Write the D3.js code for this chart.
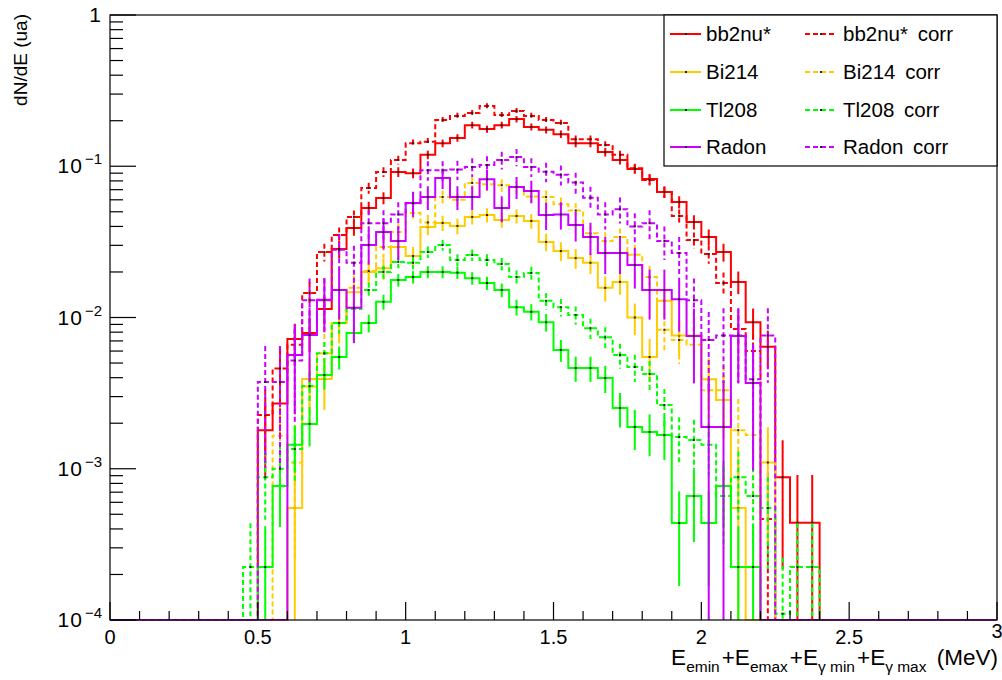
<!DOCTYPE html>
<html>
<head>
<meta charset="utf-8">
<script src="https://cdn.jsdelivr.net/npm/d3@7"></script>
<style>
  html, body { margin: 0; padding: 0; background: #fff; }
  svg { display: block; font-family: "Liberation Sans", Arial, Helvetica, sans-serif; }
</style>
</head>
<body>
<svg id="chart" width="1002" height="680"></svg>
<script>
// ---------------- data ----------------
// bin width 0.05 MeV; arrays start at the bin [0.45, 0.50) and end at [2.35, 2.40)
const binWidth = 0.05;
const firstBin = 0.45;

const bb2nu = [0, 1.8e-3, 2.7e-3, 7.2e-3, 7.9e-3, 1.14e-2, 2.84e-2, 3.91e-2, 5.3e-2, 6.17e-2,
  9.16e-2, 9.0e-2, 0.119, 0.142, 0.154, 0.187, 0.176, 0.187, 0.205, 0.182,
  0.174, 0.163, 0.142, 0.142, 0.124, 0.110, 0.096, 0.0824, 0.0676, 0.058,
  0.0428, 0.0341, 0.0271, 0.0172, 9.3e-3, 6.4e-3, 8.8e-4, 4.4e-4, 4.4e-4];

const bb2nuCorr = [0, 2.27e-3, 4.6e-3, 6.6e-3, 1.45e-2, 2.71e-2, 3.51e-2, 4.62e-2, 7.18e-2, 9.16e-2,
  0.110, 0.142, 0.145, 0.202, 0.215, 0.225, 0.250, 0.218, 0.232, 0.215,
  0.202, 0.193, 0.151, 0.151, 0.138, 0.119, 0.097, 0.081, 0.0676, 0.0469,
  0.0325, 0.0263, 0.0169, 8.4e-3, 6.0e-3, 4.65e-4, 0, 0, 0];

const bi214 = [0, 0, 0, 5.5e-4, 3.92e-3, 3.92e-3, 9.2e-3, 1.47e-2, 2.0e-2, 2.12e-2,
  2.93e-2, 2.55e-2, 3.97e-2, 4.22e-2, 4.03e-2, 4.62e-2, 4.76e-2, 4.41e-2, 4.69e-2, 4.35e-2,
  3.16e-2, 2.75e-2, 2.47e-2, 2.3e-2, 1.57e-2, 1.72e-2, 1.0e-2, 5.48e-3, 1.29e-2, 7.6e-3,
  7.6e-3, 3.9e-3, 2.85e-3, 5.5e-4, 0, 1.1e-3, 0, 0, 0];

const bi214Corr = [0, 0, 1.65e-3, 1.1e-3, 3.5e-3, 5.8e-3, 9.2e-3, 1.57e-2, 2.03e-2, 2.93e-2,
  3.67e-2, 4.9e-2, 4.25e-2, 6.26e-2, 6.0e-2, 7.75e-2, 7.6e-2, 7.5e-2, 7.3e-2, 6.3e-2,
  6.26e-2, 5.6e-2, 5.1e-2, 3.6e-2, 3.2e-2, 3.4e-2, 2.6e-2, 1.85e-2, 8.3e-3, 7.1e-3,
  6.6e-3, 3.3e-3, 3.3e-3, 1.8e-3, 1.67e-3, 0, 0, 0, 0];

const tl208 = [0, 2.24e-4, 7.7e-4, 1.44e-3, 1.98e-3, 4.17e-3, 5.48e-3, 7.9e-3, 9.2e-3, 1.27e-2,
  1.77e-2, 1.85e-2, 2.0e-2, 2.0e-2, 1.98e-2, 1.82e-2, 1.69e-2, 1.52e-2, 1.17e-2, 1.09e-2,
  9.3e-3, 6.1e-3, 4.63e-3, 4.63e-3, 3.98e-3, 2.52e-3, 1.89e-3, 1.75e-3, 1.67e-3, 4.38e-4,
  6.6e-4, 4.38e-4, 7.7e-4, 2.24e-4, 2.24e-4, 0, 0, 0, 0];

const tl208Corr = [2.24e-4, 8.8e-4, 1.0e-3, 1.35e-3, 3.52e-3, 5.8e-3, 9.2e-3, 1.14e-2, 1.52e-2, 2.0e-2,
  2.33e-2, 2.3e-2, 2.71e-2, 3.01e-2, 2.4e-2, 2.59e-2, 2.4e-2, 2.26e-2, 1.85e-2, 1.97e-2,
  1.29e-2, 1.17e-2, 1.04e-2, 8.5e-3, 7.4e-3, 5.65e-3, 4.71e-3, 4.23e-3, 2.64e-3, 1.62e-3,
  1.55e-3, 1.44e-3, 6.6e-4, 8.8e-4, 6.6e-4, 5.5e-4, 1.1e-4, 2.24e-4, 2.24e-4];

const radon = [0, 0, 0, 5.65e-3, 7.66e-3, 1.31e-2, 1.52e-2, 1.16e-2, 3.01e-2, 3.67e-2,
  3.2e-2, 5.71e-2, 6.26e-2, 8.36e-2, 6.26e-2, 6.26e-2, 8.2e-2, 5.3e-2, 7.29e-2, 6.86e-2,
  4.76e-2, 4.8e-2, 4.09e-2, 3.41e-2, 2.67e-2, 2.67e-2, 2.22e-2, 1.52e-2, 1.52e-2, 1.32e-2,
  7.55e-3, 1.89e-3, 1.89e-3, 7.55e-3, 3.69e-3, 0, 0, 0, 0];

const radonCorr = [0, 3.75e-3, 3.75e-3, 5.2e-3, 1.3e-2, 1.3e-2, 2.8e-2, 2.3e-2, 4.2e-2, 4.2e-2,
  4.8e-2, 5.7e-2, 9.4e-2, 9.4e-2, 9.5e-2, 9.9e-2, 0.102, 0.110, 0.115, 0.099,
  0.092, 0.088, 0.078, 0.062, 0.048, 0.052, 0.040, 0.042, 0.032, 0.0267,
  0.013, 7.1e-3, 7.6e-3, 7.6e-3, 3.9e-3, 7.6e-3, 0, 0, 0];

// effective number of entries behind each normalised histogram (sets the Poisson error bars)
const entries = { bb2nu: 2000, bb2nuCorr: 2000, bi214: 1800, bi214Corr: 1500,
                  tl208: 6000, tl208Corr: 5000, radon: 500, radonCorr: 500 };

const seriesNames = ["bb2nu*", "bb2nu* corr", "Bi214", "Bi214 corr", "Tl208", "Tl208 corr", "Radon", "Radon corr"];
const seriesKeys  = ["bb2nu", "bb2nuCorr", "bi214", "bi214Corr", "tl208", "tl208Corr", "radon", "radonCorr"];
const seriesData  = [bb2nu, bb2nuCorr, bi214, bi214Corr, tl208, tl208Corr, radon, radonCorr];
const seriesColors = ["#ff0000", "#ff0000", "#ffcc00", "#ffcc00", "#00ff00", "#00ff00", "#cc00ff", "#cc00ff"];
const seriesDashed = [false, true, false, true, false, true, false, true];

const legendOrder = ["bb2nu*", "bb2nu* corr", "Bi214", "Bi214 corr", "Tl208", "Tl208 corr", "Radon", "Radon corr"];

const xTicks = [0, 0.5, 1, 1.5, 2, 2.5, 3];
const yDecades = [1, 1e-1, 1e-2, 1e-3, 1e-4];
const yTickLabels = ["1", "10|−1", "10|−2", "10|−3", "10|−4"];

// ---------------- layout ----------------
const svg = d3.select("#chart");
const frame = { left: 110, right: 997, top: 15, bottom: 620 };
const x = d3.scaleLinear().domain([0, 3]).range([frame.left, frame.right]);
const y = d3.scaleLog().domain([1e-4, 1]).range([frame.bottom, frame.top]);
const yMin = 1e-4;

const FONT = "'Liberation Sans', Arial, Helvetica, sans-serif";

svg.append("rect").attr("width", 1002).attr("height", 680).attr("fill", "#fff");

svg.append("defs").append("clipPath").attr("id", "plotclip")
  .append("rect").attr("x", frame.left).attr("y", frame.top - 1)
  .attr("width", frame.right - frame.left).attr("height", frame.bottom - frame.top + 1.5);

// full histogram (60 bins from 0 to 3)
const nBins = 60;
function fullHist(arr) {
  const out = [];
  const off = Math.round(firstBin / binWidth);
  for (let i = 0; i < nBins; i++) {
    const j = i - off;
    out.push({ lo: i * binWidth, hi: (i + 1) * binWidth, v: (j >= 0 && j < arr.length) ? arr[j] : 0 });
  }
  return out;
}
const yc = v => y(Math.max(v, yMin));

const plot = svg.append("g").attr("clip-path", "url(#plotclip)");

seriesData.forEach((arr, si) => {
  const h = fullHist(arr);
  const g = plot.append("g");
  const dash = seriesDashed[si] ? "5,3" : null;
  const pts = [];
  h.forEach(b => { pts.push([x(b.lo), yc(b.v)]); pts.push([x(b.hi), yc(b.v)]); });
  g.append("path").attr("d", d3.line()(pts))
    .attr("fill", "none").attr("stroke", seriesColors[si]).attr("stroke-width", 2)
    .attr("stroke-dasharray", dash);
  const S = entries[seriesKeys[si]];
  h.filter(b => b.v > 0).forEach(b => {
    const err = Math.sqrt(b.v / S);
    const cx = x((b.lo + b.hi) / 2);
    g.append("line").attr("x1", cx).attr("x2", cx)
      .attr("y1", yc(b.v + err)).attr("y2", yc(b.v - err > 0 ? b.v - err : 0))
      .attr("stroke", seriesColors[si]).attr("stroke-width", 2)
      .attr("stroke-dasharray", dash);
  });
  h.filter(b => b.v > yMin).forEach(b => {
    g.append("rect").attr("x", x((b.lo + b.hi) / 2) - 1).attr("y", y(b.v) - 1)
      .attr("width", 2).attr("height", 2).attr("fill", "#222");
  });
});

// ---------------- frame & axes ----------------
svg.append("rect").attr("x", frame.left).attr("y", frame.top)
  .attr("width", frame.right - frame.left).attr("height", frame.bottom - frame.top)
  .attr("fill", "none").attr("stroke", "#000").attr("stroke-width", 1.2);

const xMinor = d3.range(0, 3.0001, 0.1);
svg.append("g").selectAll("line").data(xMinor).join("line")
  .attr("x1", d => x(d)).attr("x2", d => x(d))
  .attr("y1", frame.bottom)
  .attr("y2", d => frame.bottom - (xTicks.some(t => Math.abs(t - d) < 1e-6) ? 18 : 9))
  .attr("stroke", "#000").attr("stroke-width", 1.2);

svg.append("g").selectAll("text").data(xTicks).join("text")
  .attr("x", d => x(d)).attr("y", d => d === 3 ? 638 : 644)
  .attr("text-anchor", "middle").attr("font-size", 20).attr("font-family", FONT)
  .text(d => d3.format("")(d));

const yMinor = [];
for (let e = -4; e < 0; e++) for (let m = 1; m < 10; m++) yMinor.push({ v: m * Math.pow(10, e), major: m === 1 });
yMinor.push({ v: 1, major: true });
svg.append("g").selectAll("line").data(yMinor).join("line")
  .attr("x1", frame.left).attr("x2", d => frame.left + (d.major ? 26 : 13))
  .attr("y1", d => y(d.v)).attr("y2", d => y(d.v))
  .attr("stroke", "#000").attr("stroke-width", 1.2);

const ylab = svg.append("g").attr("font-family", FONT);
yDecades.forEach((v, i) => {
  const parts = yTickLabels[i].split("|");
  const t = ylab.append("text").attr("x", 102).attr("y", y(v) + 7).attr("text-anchor", "end").attr("font-size", 21);
  t.append("tspan").attr("letter-spacing", 1).text(parts[0]);
  if (parts[1]) t.append("tspan").attr("font-size", 15).attr("dx", 2).attr("dy", -9).text(parts[1]);
});

// axis titles
svg.append("text").attr("transform", "translate(27,14) rotate(-90)")
  .attr("text-anchor", "end").attr("font-size", 19).attr("font-family", FONT)
  .text("dN/dE (ua)");

const xt = svg.append("text").attr("x", 998).attr("y", 665).attr("text-anchor", "end")
  .attr("font-size", 22.5).attr("font-family", FONT);
const xtParts = [["E", 0], ["emin", 1], ["+E", 0], ["emax", 1], ["+E", 0], ["γ min", 1], ["+E", 0], ["γ max", 1], [" (MeV)", 0]];
let sub = false;
xtParts.forEach(([s, isSub]) => {
  const ts = xt.append("tspan").text(s);
  if (isSub) { ts.attr("font-size", 15.5); if (!sub) { ts.attr("dy", 7); sub = true; } }
  else {
    if (sub) { ts.attr("dy", -7); sub = false; }
    ts.attr("dx", s === "E" ? 0 : 2).attr("word-spacing", 2);
  }
});

// ---------------- legend ----------------
const lg = svg.append("g").attr("font-family", FONT);
lg.append("rect").attr("x", 664).attr("y", frame.top).attr("width", 997 - 664).attr("height", 151)
  .attr("fill", "#fff").attr("stroke", "#000").attr("stroke-width", 1.2);
const rowY = [34, 72, 110, 147];
legendOrder.forEach((name, k) => {
  const si = seriesNames.indexOf(name);
  const col = k % 2, row = Math.floor(k / 2);
  const lx = col === 0 ? 670 : 805;
  const ly = rowY[row];
  lg.append("line").attr("x1", lx).attr("x2", lx + 31).attr("y1", ly).attr("y2", ly)
    .attr("stroke", seriesColors[si]).attr("stroke-width", 2)
    .attr("stroke-dasharray", seriesDashed[si] ? "5,3" : null);
  lg.append("rect").attr("x", lx + 15).attr("y", ly - 1).attr("width", 2).attr("height", 2).attr("fill", "#222");
  lg.append("text").attr("x", col === 0 ? 706 : 843).attr("y", ly + 7)
    .attr("font-size", 20.5).attr("word-spacing", 4).text(name);
});
</script>
</body>
</html>
